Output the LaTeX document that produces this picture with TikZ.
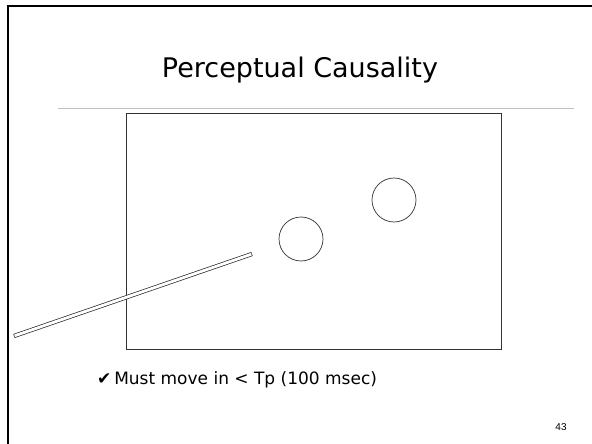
\documentclass[tikz,border=0pt]{standalone}
\usepackage{fontspec}
\setmainfont{DejaVu Sans}
\newfontfamily\numfont{Liberation Sans}
\usetikzlibrary{positioning}

\begin{document}
\begin{tikzpicture}[x=1pt, y=-1pt]
    % Styles
    \tikzstyle{heading} = [font=\fontsize{27}{32}\selectfont, inner sep=0pt]
    \tikzstyle{point} = [font=\fontsize{17}{22}\selectfont, inner sep=0pt, anchor=base west]
    \tikzstyle{ball} = [circle, draw=black!80, line width=0.7pt, minimum size=44pt, inner sep=0pt]
    \tikzstyle{stickedge} = [draw=black!85, line width=4.2pt]
    \tikzstyle{stickfill} = [draw=white, line width=2.8pt, shorten <=0.7pt, shorten >=0.7pt]

    \useasboundingbox [fill=white] (0,0) rectangle (592,444);

    % Frame
    \draw [line width=2pt] (8,444) -- (8,6) -- (592,6);
    \draw [black!25, line width=1pt] (58,108) -- (574,108);

    % Nodes
    \node [heading] (title) at (300,70) {Perceptual Causality};
    \node [draw=black!80, line width=0.8pt, minimum width=375pt, minimum height=236pt, inner sep=0pt, anchor=north west] (screen) at (126,113) {};
    \node [ball] (ballA) at (301,239) {};
    \node [ball] (ballB) at (394,200) {};
    \node [point] (note) at (97,384) {✔\,Must move in < Tp (100 msec)};
    \node [font=\numfont\fontsize{10}{12}\selectfont, inner sep=0pt] (page) at (561,427) {43};

    % Stick
    \coordinate (tail) at (14,336);
    \coordinate (tip) at (252,254);
    \path [stickedge] (tail) -- (tip);
    \path [stickfill] (tail) -- (tip);
\end{tikzpicture}
\end{document}
